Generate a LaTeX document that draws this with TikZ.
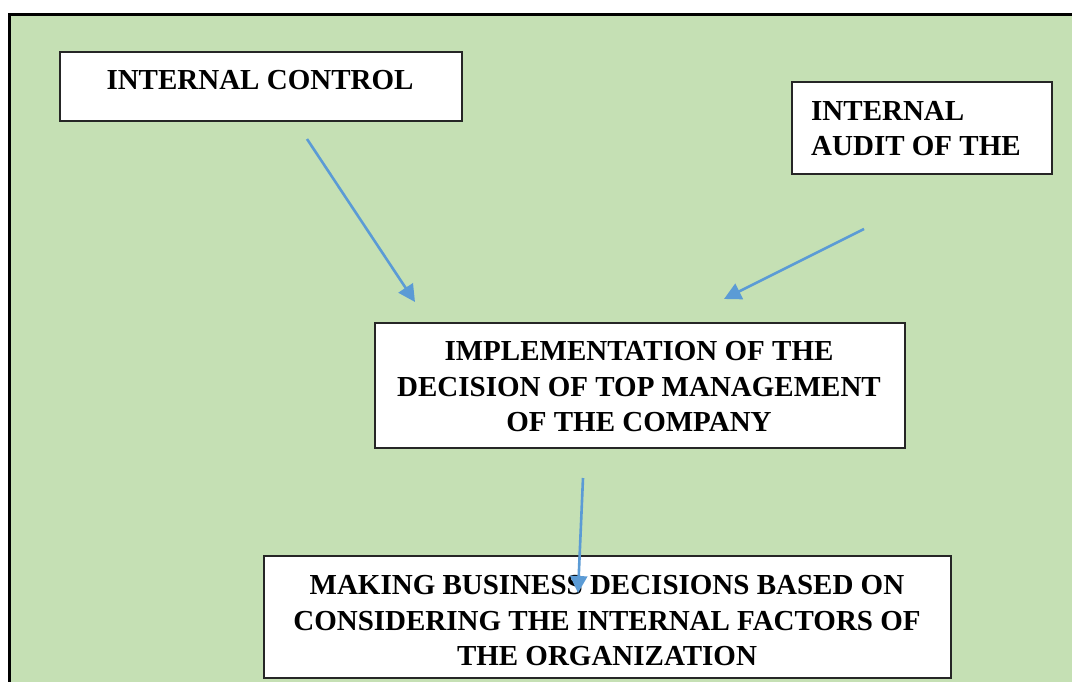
\documentclass[tikz,border=0pt]{standalone}
\usepackage{fontspec}
\setmainfont{Liberation Serif}
\usetikzlibrary{arrows.meta}
\definecolor{bggreen}{HTML}{C5E0B4}
\definecolor{arrowblue}{HTML}{5B9BD5}
\begin{document}
\begin{tikzpicture}[x=1pt,y=-1pt,
  boxrect/.style={draw=black!85,line width=1.6pt,fill=white},
  lbl/.style={font=\fontsize{29}{35.5}\selectfont\bfseries,inner sep=0pt},
  conn/.style={draw=arrowblue,line width=2.6pt,-{Triangle[length=17pt,width=17pt]}}]
\useasboundingbox (0,0) rectangle (1072,682);
\clip (0,0) rectangle (1072,682);
\draw[fill=bggreen,line width=3pt] (9,14.5) rectangle (1090,700);
% boxes
\node[boxrect,minimum width=402pt,minimum height=69pt,anchor=north west,inner sep=0pt] (b1) at (59,51) {};
\node[boxrect,minimum width=260pt,minimum height=92pt,anchor=north west,inner sep=0pt] (b2) at (791,81) {};
\node[boxrect,minimum width=530pt,minimum height=125pt,anchor=north west,inner sep=0pt] (b3) at (374,322) {};
\node[boxrect,minimum width=687pt,minimum height=122pt,anchor=north west,inner sep=0pt] (b4) at (263,555) {};
% texts
\node[lbl] (t1) at (260,80.5) {INTERNAL CONTROL};
\node[lbl,align=left,anchor=west] (t2) at (811,128.5) {INTERNAL\\AUDIT OF THE};
\node[lbl,align=center] (t3) at (639,387) {IMPLEMENTATION OF THE\\DECISION OF TOP MANAGEMENT\\OF THE COMPANY};
\node[lbl,align=center] (t4) at (607,621) {MAKING BUSINESS DECISIONS BASED ON\\CONSIDERING THE INTERNAL FACTORS OF\\THE ORGANIZATION};
% arrows
\coordinate (a1s) at (307,139);
\coordinate (a1e) at (415,302);
\coordinate (a2s) at (864,229);
\coordinate (a2e) at (724,299);
\coordinate (a3s) at (583,478);
\coordinate (a3e) at (578,593);
\draw[conn] (a1s) -- (a1e);
\draw[conn] (a2s) -- (a2e);
\draw[conn] (a3s) -- (a3e);
\end{tikzpicture}
\end{document}
